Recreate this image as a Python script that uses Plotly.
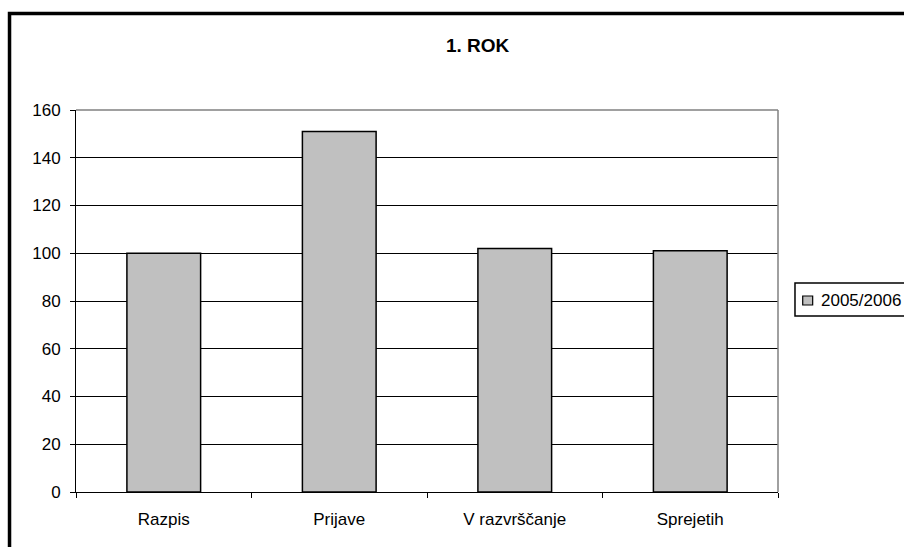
import plotly.graph_objects as go

# Data
categories = ['Razpis', 'Prijave', 'V razvrščanje', 'Sprejetih']
values_2005 = [100, 151, 102, 101]
series_name = '2005/2006'
y_ticks = [0, 20, 40, 60, 80, 100, 120, 140, 160]

FONT = 'Liberation Sans, Arial, sans-serif'
BAR_COLOR = '#C0C0C0'

fig = go.Figure()

fig.add_trace(go.Bar(
    x=categories,
    y=values_2005,
    name=series_name,
    marker=dict(color=BAR_COLOR, line=dict(color='black', width=1.5)),
    showlegend=False,
))

fig.update_layout(
    width=904,
    height=547,
    paper_bgcolor='white',
    plot_bgcolor='white',
    font=dict(family=FONT, size=17, color='black'),
    margin=dict(l=76, r=126, t=110, b=55),
    bargap=0.58,
    xaxis=dict(
        type='category',
        showgrid=False,
        showline=True, linecolor='black', linewidth=1,
        ticks='outside', ticklen=5, tickcolor='black',
        tickson='boundaries',
        ticklabelstandoff=12,
        tickfont=dict(family=FONT, size=17),
    ),
    yaxis=dict(
        range=[0, 160],
        tickvals=y_ticks,
        showgrid=True, gridcolor='black', gridwidth=1,
        showline=True, linecolor='black', linewidth=1,
        ticks='outside', ticklen=5, tickcolor='black',
        ticklabelstandoff=6,
        zeroline=False,
        tickfont=dict(family=FONT, size=17),
    ),
)

# Chart title inside the framed chart area
fig.add_annotation(
    text='<b>1. ROK</b>',
    x=0.5726, y=1.170, xref='paper', yref='paper',
    xanchor='center', yanchor='middle',
    showarrow=False, font=dict(family=FONT, size=19, color='black'),
)

# Grey plot-area border on top and right
fig.add_shape(type='line', xref='paper', yref='paper', x0=0, x1=1, y0=1, y1=1,
              line=dict(color='#808080', width=1.5))
fig.add_shape(type='line', xref='paper', yref='paper', x0=1, x1=1, y0=0, y1=1,
              line=dict(color='#808080', width=1.5))

# Legend box (Excel style, runs off the right edge)
fig.add_shape(type='rect', xref='paper', yref='paper',
              x0=1.0242, x1=1.3, y0=0.4607, y1=0.547,
              line=dict(color='black', width=1.5), fillcolor='white')
fig.add_shape(type='rect', xref='paper', yref='paper',
              x0=1.0352, x1=1.0494, y0=0.4895, y1=0.5131,
              line=dict(color='black', width=1.2), fillcolor=BAR_COLOR)
fig.add_annotation(
    text=series_name,
    x=1.0584, y=0.5026, xref='paper', yref='paper',
    xanchor='left', yanchor='middle',
    showarrow=False, font=dict(family=FONT, size=17, color='black'),
)

# Thick black outer frame (runs off the right and bottom edges)
fig.add_shape(type='rect', xref='paper', yref='paper',
              x0=-0.0947, x1=1.3, y0=-0.5, y1=1.2526,
              line=dict(color='black', width=3.5), layer='above')

# the page has a default body margin; remove it so the figure sits at 0,0
fig.write_html('out.html', config={'displayModeBar': False},
               post_script="document.body.style.margin='0';")
